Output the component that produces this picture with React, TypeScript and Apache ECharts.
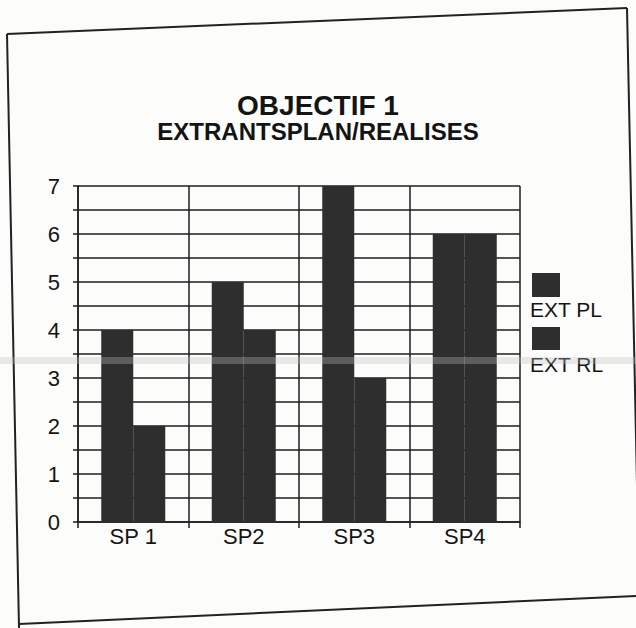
import React, { useEffect, useRef } from "react";
import * as echarts from "echarts";

const categories = ["SP 1", "SP2", "SP3", "SP4"];
const seriesNames = ["EXT PL", "EXT RL"];
const extPlan = [4, 5, 7, 6];
const extRealises = [2, 4, 3, 6];
const titleText = "OBJECTIF 1";
const subtitleText = "EXTRANTSPLAN/REALISES";
const yMin = 0;
const yMax = 7;

export default function App() {
  const ref = useRef<HTMLDivElement>(null);

  useEffect(() => {
    if (!ref.current) return;
    const chart = echarts.init(ref.current, null, { renderer: "svg" });
    const font = "'Liberation Sans', Arial, Helvetica, sans-serif";
    const ink = "#141414";
    const barColor = "#2e2e2e";
    const gridLine = { color: "#1e1e1e", width: 1.5 };

    chart.setOption({
      animation: false,
      backgroundColor: "#fcfcfb",
      title: [
        {
          text: titleText,
          left: "center",
          top: 92,
          padding: 0,
          textStyle: { fontFamily: font, fontSize: 28, fontWeight: "bold", color: ink, lineHeight: 27 },
        },
        {
          text: subtitleText,
          left: "center",
          top: 120,
          padding: 0,
          textStyle: { fontFamily: font, fontSize: 24, fontWeight: "bold", color: ink, lineHeight: 23 },
        },
      ],
      grid: { left: 78, right: 116, top: 186, bottom: 106, containLabel: false },
      xAxis: {
        type: "category",
        data: categories,
        boundaryGap: true,
        axisLine: { show: true, lineStyle: gridLine },
        axisTick: { show: true, length: 6, lineStyle: gridLine },
        axisLabel: { fontFamily: font, fontSize: 22, color: ink, margin: 3 },
        splitLine: { show: true, lineStyle: gridLine },
      },
      yAxis: {
        type: "value",
        min: yMin,
        max: yMax,
        interval: 1,
        axisLine: { show: true, lineStyle: gridLine },
        axisTick: { show: true, length: 5, lineStyle: gridLine },
        minorTick: { show: true, splitNumber: 2, length: 5, lineStyle: gridLine },
        axisLabel: { fontFamily: font, fontSize: 22, color: ink, margin: 18 },
        splitLine: { show: true, lineStyle: gridLine },
        minorSplitLine: { show: true, lineStyle: gridLine },
      },
      series: [
        {
          name: seriesNames[0],
          type: "bar",
          data: extPlan,
          barWidth: 32,
          barGap: "0%",
          itemStyle: { color: barColor },
          z: 3,
        },
        {
          name: seriesNames[1],
          type: "bar",
          data: extRealises,
          barWidth: 32,
          barGap: "0%",
          itemStyle: { color: barColor },
          z: 3,
        },
      ],
      graphic: [
        { type: "line", shape: { x1: 7, y1: 34, x2: 627, y2: 8 }, style: { stroke: "#222", lineWidth: 2 } },
        { type: "line", shape: { x1: 7, y1: 34, x2: 19, y2: 628 }, style: { stroke: "#222", lineWidth: 2 } },
        { type: "line", shape: { x1: 627, y1: 8, x2: 640, y2: 628 }, style: { stroke: "#222", lineWidth: 2 } },
        { type: "line", shape: { x1: 19, y1: 624, x2: 636, y2: 596 }, style: { stroke: "#222", lineWidth: 2 } },
        { type: "rect", shape: { x: 532, y: 273, width: 28, height: 24 }, style: { fill: barColor } },
        {
          type: "text",
          x: 530,
          y: 309,
          style: { text: seriesNames[0], fontFamily: font, fontSize: 21, fill: ink, verticalAlign: "middle", align: "left" },
        },
        { type: "rect", shape: { x: 532, y: 327, width: 28, height: 23 }, style: { fill: barColor } },
        {
          type: "text",
          x: 530,
          y: 364,
          style: { text: seriesNames[1], fontFamily: font, fontSize: 21, fill: ink, verticalAlign: "middle", align: "left" },
        },
        {
          type: "rect",
          z: 100,
          shape: { x: 0, y: 357, width: 636, height: 7 },
          style: { fill: "rgba(190,190,190,0.33)" },
        },
      ],
    });

    return () => chart.dispose();
  }, []);

  return (
    <div
      ref={ref}
      style={{ position: "absolute", left: 0, top: 0, width: 636, height: 628 }}
    />
  );
}
